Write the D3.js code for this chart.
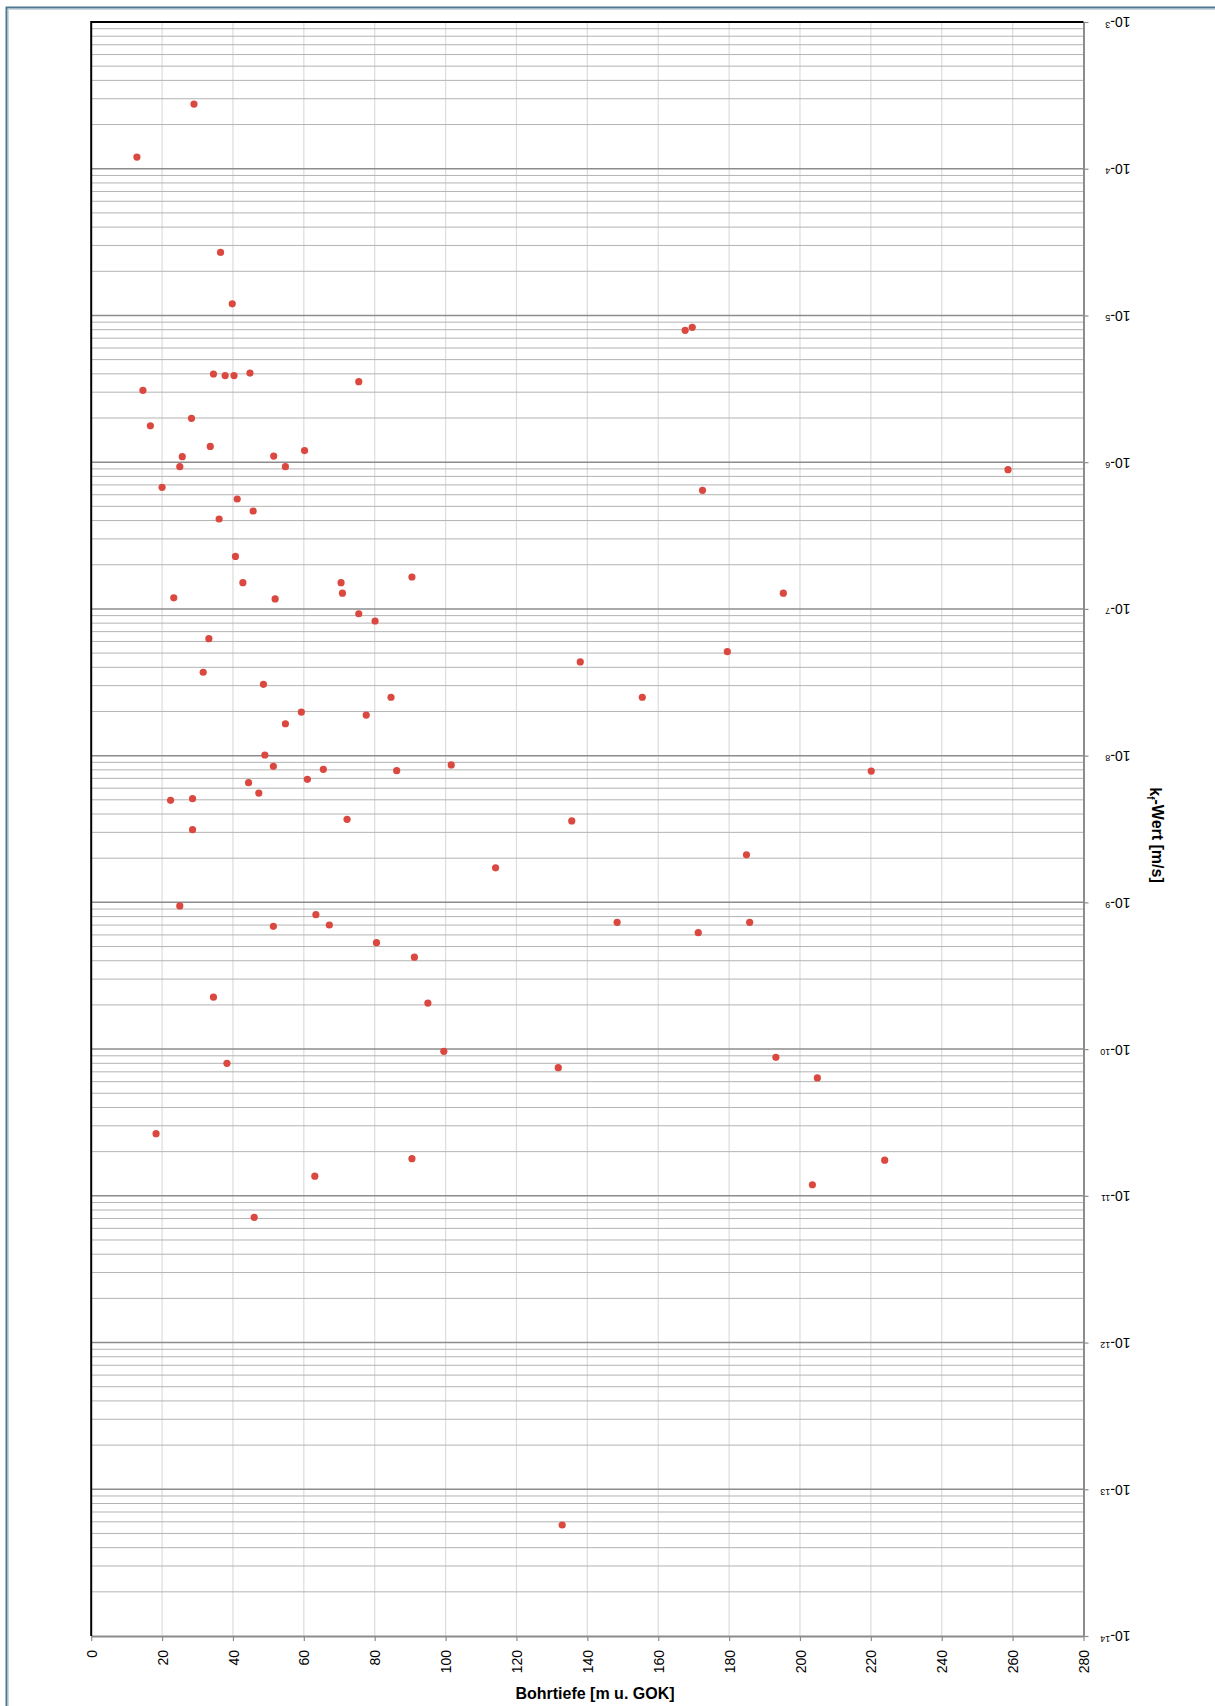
<!DOCTYPE html>
<html>
<head>
<meta charset="utf-8">
<script src="https://cdn.jsdelivr.net/npm/d3@7"></script>
<style>
  body { margin: 0; background: #fff; }
  svg { display: block; }
  text { font-family: "Liberation Sans", Arial, sans-serif; fill: #000; }
</style>
</head>
<body>
<svg id="chart" width="1215" height="1706"></svg>
<script>
// Bohrtiefe [m u. GOK] of each test
const depth = [
  29.0, 12.9, 36.5, 39.8, 34.5, 37.8, 40.3, 44.8, 75.5, 14.6,
  28.3, 16.7, 33.6, 25.7, 51.5, 60.2, 25.0, 54.8, 20.0, 41.2,
  45.7, 36.1, 40.7, 42.8, 70.5, 90.5, 70.9, 23.3, 51.9, 75.5,
  80.1, 33.2, 31.6, 48.6, 84.6, 59.3, 77.6, 54.8, 49.0, 51.4,
  65.5, 86.2, 101.6, 114.1, 61.0, 44.4, 47.3, 22.4, 28.6, 72.2,
  28.6, 25.0, 63.4, 51.4, 67.2, 80.5, 91.2, 34.5, 95.0, 99.5,
  38.3, 18.3, 90.5, 63.1, 46.0, 167.6, 169.6, 258.7, 172.5, 195.3,
  179.5, 138.0, 155.5, 220.1, 135.6, 184.9, 148.4, 185.8, 171.3, 193.2,
  131.8, 204.9, 223.9, 203.5, 132.9
];

// kf-Wert [m/s] of each test, same order as depth
const kf = [
  2.76e-4, 1.20e-4, 2.69e-5, 1.20e-5, 3.99e-6, 3.89e-6, 3.89e-6, 4.05e-6, 3.54e-6, 3.09e-6,
  1.99e-6, 1.77e-6, 1.28e-6, 1.09e-6, 1.10e-6, 1.20e-6, 9.32e-7, 9.32e-7, 6.74e-7, 5.61e-7,
  4.65e-7, 4.10e-7, 2.28e-7, 1.51e-7, 1.51e-7, 1.65e-7, 1.28e-7, 1.19e-7, 1.17e-7, 9.27e-8,
  8.27e-8, 6.27e-8, 3.70e-8, 3.06e-8, 2.50e-8, 1.98e-8, 1.89e-8, 1.65e-8, 1.01e-8, 8.46e-9,
  8.07e-9, 7.90e-9, 8.64e-9, 1.72e-9, 6.90e-9, 6.54e-9, 5.56e-9, 4.96e-9, 5.09e-9, 3.68e-9,
  3.13e-9, 9.45e-10, 8.24e-10, 6.87e-10, 7.01e-10, 5.31e-10, 4.23e-10, 2.26e-10, 2.06e-10, 9.66e-11,
  8.00e-11, 2.65e-11, 1.79e-11, 1.36e-11, 7.14e-12, 7.92e-6, 8.30e-6, 8.89e-7, 6.43e-7, 1.28e-7,
  5.11e-8, 4.35e-8, 2.50e-8, 7.85e-9, 3.59e-9, 2.11e-9, 7.31e-10, 7.31e-10, 6.21e-10, 8.79e-11,
  7.47e-11, 6.36e-11, 1.75e-11, 1.19e-11, 5.71e-14
];

const depthTicks = [0, 20, 40, 60, 80, 100, 120, 140, 160, 180, 200, 220, 240, 260, 280];
const kfExponents = [-3, -4, -5, -6, -7, -8, -9, -10, -11, -12, -13, -14];
const minorFactors = [2, 3, 4, 5, 6, 7, 8, 9];

const svg = d3.select("#chart");
const plot = { left: 91.2, right: 1083.5, top: 22, bottom: 1636 };

const x = d3.scaleLinear().domain([0, 280]).range([plot.left, plot.right]);
const y = d3.scaleLog().domain([1e-3, 1e-14]).range([plot.top, plot.bottom]);

// outer frame
svg.append("path")
  .attr("d", "M6.5,1720 V7.5 H1230")
  .attr("fill", "none").attr("stroke", "#4f7691").attr("stroke-width", 2);
svg.append("path")
  .attr("d", "M8.5,1720 V9.5 H1230")
  .attr("fill", "none").attr("stroke", "#c9d6df").attr("stroke-width", 1);

const grid = svg.append("g");

// vertical grid (depth)
grid.selectAll("line.v").data(depthTicks.filter(d => d > 0 && d < 280)).join("line")
  .attr("x1", d => x(d)).attr("x2", d => x(d))
  .attr("y1", plot.top).attr("y2", plot.bottom)
  .attr("stroke", "#dcdcdc").attr("stroke-width", 1.2);

// minor horizontal grid (2..9 per decade)
const minorVals = [];
kfExponents.slice(1).forEach(e => minorFactors.forEach(f => minorVals.push(f * Math.pow(10, e))));
grid.selectAll("line.m").data(minorVals).join("line")
  .attr("x1", plot.left).attr("x2", plot.right)
  .attr("y1", d => y(d)).attr("y2", d => y(d))
  .attr("stroke", "#b3b3b3").attr("stroke-width", 1);

// major horizontal grid (decades)
grid.selectAll("line.M").data(kfExponents.slice(1, -1)).join("line")
  .attr("x1", plot.left).attr("x2", plot.right)
  .attr("y1", e => y(Math.pow(10, e))).attr("y2", e => y(Math.pow(10, e)))
  .attr("stroke", "#8c8c8c").attr("stroke-width", 1.5);

// bottom axis (depth)
const xAxis = svg.append("g")
  .attr("transform", `translate(0,${plot.bottom})`)
  .call(d3.axisBottom(x).tickValues(depthTicks).tickSize(5).tickSizeOuter(0));
xAxis.select(".domain").attr("stroke", "#8c8c8c").attr("stroke-width", 2);
xAxis.selectAll(".tick line").attr("stroke", "#8c8c8c").attr("stroke-width", 1.2);
xAxis.selectAll(".tick text")
  .attr("font-size", 14)
  .attr("text-anchor", "end")
  .attr("transform", "rotate(-90)")
  .attr("x", -14).attr("y", 0).attr("dy", "0.36em");

// right axis (kf, log)
const yAxis = svg.append("g")
  .attr("transform", `translate(${plot.right},0)`)
  .call(d3.axisRight(y).tickValues(kfExponents.map(e => Math.pow(10, e))).tickSize(5).tickSizeOuter(0).tickFormat(""));
yAxis.select(".domain").attr("stroke", "#8c8c8c").attr("stroke-width", 2);
yAxis.selectAll(".tick line").attr("stroke", "#8c8c8c").attr("stroke-width", 1.2);
yAxis.selectAll(".tick text").remove();
yAxis.selectAll(".tick").each(function(d) {
  const e = Math.round(Math.log10(d));
  const t = d3.select(this).append("text")
    .attr("transform", "translate(47,0) rotate(180)")
    .attr("text-anchor", "start")
    .attr("font-size", 14)
    .attr("dy", "0.36em");
  t.append("tspan").text("10-");
  t.append("tspan").attr("font-size", 9).attr("dy", "-0.45em").text(String(-e));
});

// left and top plot borders
svg.append("line").attr("x1", plot.left).attr("x2", plot.left).attr("y1", plot.top - 1).attr("y2", plot.bottom)
  .attr("stroke", "#000").attr("stroke-width", 2);
svg.append("line").attr("x1", plot.left).attr("x2", plot.right).attr("y1", plot.top).attr("y2", plot.top)
  .attr("stroke", "#000").attr("stroke-width", 2);

// data points
svg.append("g").selectAll("circle").data(d3.range(depth.length)).join("circle")
  .attr("cx", i => x(depth[i]))
  .attr("cy", i => y(kf[i]))
  .attr("r", 3.6)
  .attr("fill", "#db4840");

// axis titles
svg.append("text")
  .attr("x", 595).attr("y", 1699)
  .attr("text-anchor", "middle")
  .attr("font-size", 16).attr("font-weight", "bold")
  .text("Bohrtiefe [m u. GOK]");

const yTitle = svg.append("text")
  .attr("transform", `translate(1150,835) rotate(90)`)
  .attr("text-anchor", "middle")
  .attr("font-size", 16).attr("font-weight", "bold");
yTitle.append("tspan").text("k");
yTitle.append("tspan").attr("font-size", 10).attr("dy", "0.3em").text("f");
yTitle.append("tspan").attr("dy", "-0.3em").text("-Wert [m/s]");
</script>
</body>
</html>
